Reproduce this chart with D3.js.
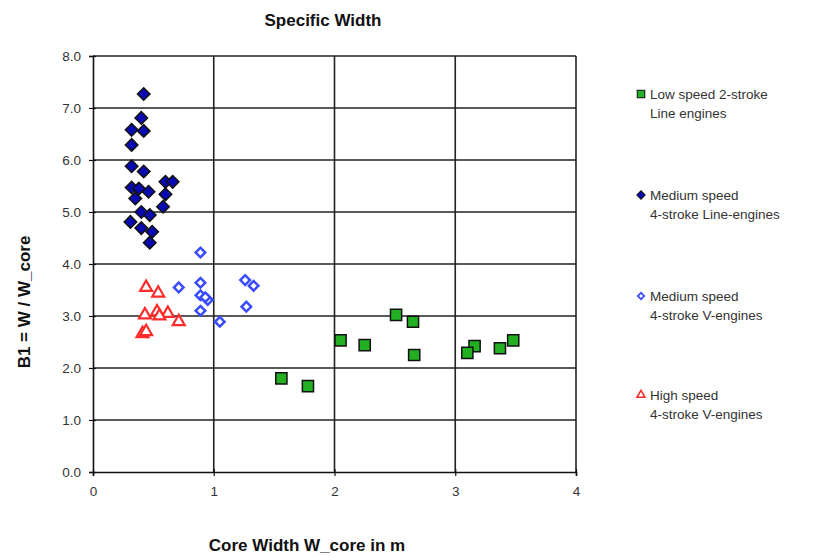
<!DOCTYPE html>
<html>
<head>
<meta charset="utf-8">
<script src="https://cdn.jsdelivr.net/npm/d3@7"></script>
<style>
  body { margin: 0; background: #fff; }
  text { font-family: "Liberation Sans", Arial, sans-serif; }
  .tick text { fill: #333; font-size: 13.5px; }
  .title { font-weight: bold; font-size: 17px; fill: #111; }
  .axis-label { font-weight: bold; font-size: 17px; fill: #111; }
  .legend text { font-size: 13.5px; fill: #333; }
</style>
</head>
<body>
<script>
// series data: [core width in m, B1]
var lowSpeed2Stroke = [
  [1.56, 1.80], [1.78, 1.65], [2.05, 2.53], [2.25, 2.44], [2.51, 3.02],
  [2.65, 2.89], [2.66, 2.25], [3.16, 2.42], [3.10, 2.29], [3.37, 2.38], [3.48, 2.53]
];
var mediumSpeedLine = [
  [0.42, 7.27], [0.40, 6.81], [0.32, 6.58], [0.42, 6.56], [0.32, 6.29],
  [0.32, 5.88], [0.42, 5.78], [0.32, 5.47], [0.46, 5.39], [0.60, 5.58],
  [0.66, 5.58], [0.60, 5.34], [0.58, 5.10], [0.35, 5.26], [0.40, 5.00],
  [0.31, 4.81], [0.40, 4.69], [0.49, 4.62], [0.47, 4.41], [0.47, 4.94], [0.38, 5.45]
];
var mediumSpeedV = [
  [0.89, 4.22], [0.71, 3.55], [0.89, 3.64], [0.89, 3.40], [0.95, 3.31],
  [0.89, 3.10], [1.05, 2.89], [1.26, 3.69], [1.33, 3.58], [1.27, 3.18], [0.93, 3.36]
];
var highSpeedV = [
  [0.44, 3.55], [0.54, 3.44], [0.43, 3.02], [0.53, 3.08], [0.62, 3.05],
  [0.71, 2.89], [0.41, 2.66], [0.44, 2.70], [0.55, 3.00]
];
var legendLabels = [
  ["Low speed 2-stroke", "Line engines"],
  ["Medium speed", "4-stroke Line-engines"],
  ["Medium speed", "4-stroke V-engines"],
  ["High speed", "4-stroke V-engines"]
];
var xTicks = [0, 1, 2, 3, 4];
var yTicks = [0, 1, 2, 3, 4, 5, 6, 7, 8];

var svgWidth = 820, svgHeight = 558;
var margin = {top: 56, right: 244, bottom: 86, left: 93};
var chartWidth = svgWidth - margin.left - margin.right;   // 483
var chartHeight = svgHeight - margin.top - margin.bottom; // 416

var svg = d3.select("body").append("svg")
  .attr("width", svgWidth)
  .attr("height", svgHeight);

var chart = svg.append("g")
  .attr("transform", "translate(" + margin.left + "," + margin.top + ")");

var xScale = d3.scaleLinear().domain([0, 4]).range([0, chartWidth]);
var yScale = d3.scaleLinear().domain([0, 8]).range([chartHeight, 0]);

// grid lines
chart.append("g").selectAll("line.v").data(xTicks.slice(1)).enter().append("line")
  .attr("x1", d => xScale(d)).attr("x2", d => xScale(d))
  .attr("y1", 0).attr("y2", chartHeight)
  .attr("stroke", "#222").attr("stroke-width", 1.6);
chart.append("g").selectAll("line.h").data(yTicks.slice(1)).enter().append("line")
  .attr("x1", 0).attr("x2", chartWidth)
  .attr("y1", d => yScale(d)).attr("y2", d => yScale(d))
  .attr("stroke", "#222").attr("stroke-width", 1.6);

// axes
var xAxis = d3.axisBottom(xScale).tickValues(xTicks).tickSize(4).tickPadding(10).tickFormat(d3.format("d"));
var yAxis = d3.axisLeft(yScale).tickValues(yTicks).tickSize(4).tickPadding(8).tickFormat(d3.format(".1f"));

var gx = chart.append("g").attr("transform", "translate(0," + chartHeight + ")").call(xAxis);
var gy = chart.append("g").call(yAxis);
[gx, gy].forEach(function(g) {
  g.select(".domain").attr("stroke", "#111").attr("stroke-width", 1.6);
  g.selectAll(".tick line").attr("stroke", "#111").attr("stroke-width", 1.2);
});
gy.selectAll(".tick line").attr("x2", -4).attr("x1", 3);
gx.selectAll(".tick line").attr("y1", -3);

// markers (diamonds are squares turned 45 degrees)
var markers = [
  {data: lowSpeed2Stroke, type: d3.symbolSquare, size: 125, rot: 0, fill: "#22b022", stroke: "#111", sw: 1.5},
  {data: mediumSpeedLine, type: d3.symbolSquare, size: 78, rot: 45, fill: "#0a0ab4", stroke: "#111", sw: 1.5},
  {data: mediumSpeedV, type: d3.symbolSquare, size: 46, rot: 45, fill: "#fff", stroke: "#3a4cff", sw: 2.5},
  {data: highSpeedV, type: d3.symbolTriangle, size: 62, rot: 0, fill: "#fff", stroke: "#ff2a2a", sw: 2.2}
];

markers.forEach(function(m) {
  chart.append("g").selectAll("path").data(m.data).enter().append("path")
    .attr("d", d3.symbol().type(m.type).size(m.size))
    .attr("transform", d => "translate(" + xScale(d[0]) + "," + yScale(d[1]) + ") rotate(" + m.rot + ")")
    .attr("fill", m.fill).attr("stroke", m.stroke).attr("stroke-width", m.sw);
});

// title and labels
svg.append("text").attr("class", "title")
  .attr("x", 323).attr("y", 26).attr("text-anchor", "middle")
  .text("Specific Width");

svg.append("text").attr("class", "axis-label")
  .attr("x", 307).attr("y", 551).attr("text-anchor", "middle")
  .text("Core Width W_core in m");

svg.append("text").attr("class", "axis-label")
  .attr("transform", "translate(30,302) rotate(-90)")
  .attr("text-anchor", "middle")
  .text("B1 = W / W_core");

// legend
var legendY = [94, 195, 296, 395];
var legend = svg.append("g").attr("class", "legend");
legendLabels.forEach(function(lbl, i) {
  var m = markers[i];
  legend.append("path")
    .attr("d", d3.symbol().type(m.type).size(m.size * 0.45))
    .attr("transform", "translate(641," + legendY[i] + ") rotate(" + m.rot + ")")
    .attr("fill", m.fill).attr("stroke", m.stroke).attr("stroke-width", m.sw * 0.7);
  legend.append("text").attr("x", 650).attr("y", legendY[i] + 5).text(lbl[0]);
  legend.append("text").attr("x", 650).attr("y", legendY[i] + 24).text(lbl[1]);
});
</script>
</body>
</html>
